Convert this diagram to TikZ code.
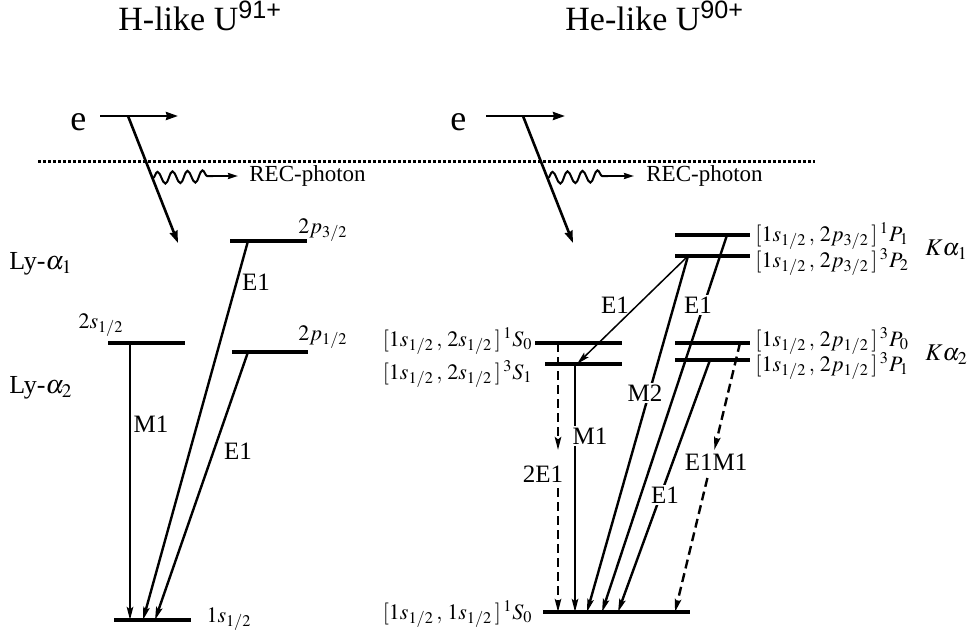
\documentclass[tikz,border=0pt]{standalone}
\usepackage{mathptmx}
\usepackage[no-math]{fontspec}
\setmainfont{Liberation Serif}
\setsansfont{Liberation Sans}
\usetikzlibrary{arrows.meta,decorations.pathmorphing}
\begin{document}
\begin{tikzpicture}[x=0.5pt,y=-0.5pt,
  level/.style={line width=1.9pt},
  tip/.style={-{Stealth[length=6.5pt,width=3.2pt,inset=1.2pt]}},
  trans/.style={line width=1.2pt, tip},
  thintrans/.style={line width=0.75pt, tip},
  dtrans/.style={trans, dash pattern=on 4.5pt off 2.5pt},
  earrow/.style={line width=1.3pt, -{Stealth[length=6pt,width=4pt,inset=0.5pt]}},
  photon/.style={line width=1pt, decorate, decoration={snake, segment length=7.5pt, amplitude=3pt}},
  parrow/.style={line width=1pt, -{Stealth[length=5pt,width=3pt,inset=0.5pt]}},
  dotline/.style={line width=1.5pt, dash pattern=on 1.3pt off 1.2pt},
  title/.style={font=\fontsize{17}{20}\selectfont, inner sep=0pt},
  elec/.style={font=\fontsize{18}{20}\selectfont, inner sep=0pt},
  rec/.style={font=\fontsize{11.5}{13}\selectfont, inner sep=0pt},
  tlabel/.style={font=\fontsize{12.5}{14}\selectfont, inner sep=1pt},
  glabel/.style={tlabel, fill=white},
  lvl/.style={font=\fontsize{11}{12}\selectfont, inner sep=0pt},
  series/.style={font=\fontsize{13}{15}\selectfont, inner sep=0pt},
  kseries/.style={font=\fontsize{12}{14}\selectfont, inner sep=0pt}
]
\useasboundingbox (0,0) rectangle (969,637);

% ---------- titles ----------
\node[title, anchor=base west] (tH) at (118,31) {H-like U\textsuperscript{\sffamily 91+}};
\node[title, anchor=base west] (tHe) at (565,31) {He-like U\textsuperscript{\sffamily 90+}};

% ---------- dotted line ----------
\coordinate (d0) at (38,161);
\coordinate (d1) at (815,161);
\draw[dotline] (d0) -- (d1);

% ---------- left electron ----------
\node[elec, anchor=base west] (eL) at (70,130) {e};
\coordinate (eLa) at (100,116);
\coordinate (eLb) at (178,116);
\coordinate (eLk) at (128,116);
\coordinate (eLd) at (178,243);
\draw[earrow] (eLa) -- (eLb);
\draw[earrow] (eLk) -- (eLd);
\coordinate (wL0) at (153,178);
\coordinate (wL1) at (213,176);
\coordinate (wL2) at (238,176);
\draw[photon] (wL0) -- (wL1);
\draw[parrow] (wL1) -- (wL2);
\node[rec, anchor=west] (recL) at (249,176) {REC-photon};

% ---------- right electron ----------
\node[elec, anchor=base west] (eR) at (450,130) {e};
\coordinate (eRa) at (486,116);
\coordinate (eRb) at (565,116);
\coordinate (eRk) at (523,116);
\coordinate (eRd) at (573,243);
\draw[earrow] (eRa) -- (eRb);
\draw[earrow] (eRk) -- (eRd);
\coordinate (wR0) at (548,178);
\coordinate (wR1) at (608,176);
\coordinate (wR2) at (634,176);
\draw[photon] (wR0) -- (wR1);
\draw[parrow] (wR1) -- (wR2);
\node[rec, anchor=west] (recR) at (646,176) {REC-photon};

% ---------- H-like levels ----------
\coordinate (p32a) at (230,241); \coordinate (p32b) at (307,241);
\coordinate (s2a) at (108,343);  \coordinate (s2b) at (185,343);
\coordinate (p12a) at (232,352); \coordinate (p12b) at (308,352);
\coordinate (s1a) at (114,620);  \coordinate (s1b) at (191,620);
\draw[level] (p32a) -- (p32b);
\draw[level] (s2a) -- (s2b);
\draw[level] (p12a) -- (p12b);
\draw[level] (s1a) -- (s1b);

\node[lvl] (lp32) at (323,230) {$2p_{3/2}$};
\node[lvl] (ls2) at (101,325) {$2s_{1/2}$};
\node[lvl] (lp12) at (323,337) {$2p_{1/2}$};
\node[lvl] (ls1) at (229,619) {$1s_{1/2}$};
\node[series] (ly1) at (41,264) {Ly-$\alpha_1$};
\node[series] (ly2) at (41,388) {Ly-$\alpha_2$};

% H-like transitions
\coordinate (hM1s) at (130,343); \coordinate (hM1e) at (130,620);
\coordinate (hE1as) at (248,241); \coordinate (hE1ae) at (143,620);
\coordinate (hE1bs) at (248,352); \coordinate (hE1be) at (155,620);
\draw[trans] (hM1s) -- (hM1e);
\draw[trans] (hE1as) -- (hE1ae);
\draw[trans] (hE1bs) -- (hE1be);
\node[tlabel] (lhM1) at (151,424) {M1};
\node[tlabel] (lhE1a) at (256,282) {E1};
\node[tlabel] (lhE1b) at (238,451) {E1};

% ---------- He-like levels ----------
\coordinate (P1a) at (675,235); \coordinate (P1b) at (750,235);
\coordinate (P2a) at (675,256); \coordinate (P2b) at (750,256);
\coordinate (S0a) at (535,343); \coordinate (S0b) at (622,343);
\coordinate (S1a) at (545,364); \coordinate (S1b) at (622,364);
\coordinate (P0a) at (675,343); \coordinate (P0b) at (750,343);
\coordinate (P31a) at (675,360); \coordinate (P31b) at (750,360);
\coordinate (Ga) at (543,612);  \coordinate (Gb) at (690,612);
\draw[level] (P1a) -- (P1b);
\draw[level] (P2a) -- (P2b);
\draw[level] (S0a) -- (S0b);
\draw[level] (S1a) -- (S1b);
\draw[level] (P0a) -- (P0b);
\draw[level] (P31a) -- (P31b);
\draw[level] (Ga) -- (Gb);

\node[lvl, anchor=west] (lP1) at (755,236) {$[1s_{1/2}\,,\,2p_{3/2}\,]\,^1P_1$};
\node[lvl, anchor=west] (lP2) at (755,262) {$[1s_{1/2}\,,\,2p_{3/2}\,]\,^3P_2$};
\node[lvl, anchor=west] (lP0) at (755,341) {$[1s_{1/2}\,,\,2p_{1/2}\,]\,^3P_0$};
\node[lvl, anchor=west] (lP31) at (755,366) {$[1s_{1/2}\,,\,2p_{1/2}\,]\,^3P_1$};
\node[lvl, anchor=east] (lS0) at (533,341) {$[1s_{1/2}\,,\,2s_{1/2}\,]\,^1S_0$};
\node[lvl, anchor=east] (lS1) at (533,374) {$[1s_{1/2}\,,\,2s_{1/2}\,]\,^3S_1$};
\node[lvl, anchor=east] (lG) at (533,614) {$[1s_{1/2}\,,\,1s_{1/2}\,]\,^1S_0$};
\node[kseries, anchor=west] (ka1) at (925,250) {$K\alpha_1$};
\node[kseries, anchor=west] (ka2) at (925,355) {$K\alpha_2$};

% He-like transitions
\coordinate (tE1s) at (688,256); \coordinate (tE1e) at (577,364);
\draw[thintrans] (tE1s) -- (tE1e);

\coordinate (M2s) at (688,256); \coordinate (M2e) at (587,612);
\draw[trans] (M2s) -- (M2e);

\coordinate (E1As) at (727,235); \coordinate (E1Ae) at (602,612);
\draw[trans] (E1As) -- (E1Ae);

\coordinate (E1Bs) at (710,360); \coordinate (E1Be) at (618,612);
\draw[trans] (E1Bs) -- (E1Be);

\coordinate (M1s) at (575,364); \coordinate (M1e) at (575,612);
\draw[trans] (M1s) -- (M1e);

\coordinate (T2s) at (558,343); \coordinate (T2m) at (558,450);
\coordinate (T2r) at (558,488); \coordinate (T2e) at (558,612);
\draw[dtrans] (T2s) -- (T2m);
\draw[dtrans] (T2r) -- (T2e);

\coordinate (EMs) at (740,343); \coordinate (EMm) at (714.3,450);
\coordinate (EMr) at (707.4,478); \coordinate (EMe) at (675,612);
\draw[dtrans] (EMs) -- (EMm);
\draw[dtrans] (EMr) -- (EMe);

\node[tlabel] (ltE1) at (615,305) {E1};
\node[glabel] (lM2) at (645,393) {M2};
\node[glabel] (lE1A) at (698,305) {E1};
\node[glabel] (lE1B) at (665,495) {E1};
\node[glabel] (lM1) at (590,436) {M1};
\node[glabel] (l2E1) at (543,474) {2E1};
\node[glabel] (lEM) at (716,462) {E1M1};
\end{tikzpicture}
\end{document}
